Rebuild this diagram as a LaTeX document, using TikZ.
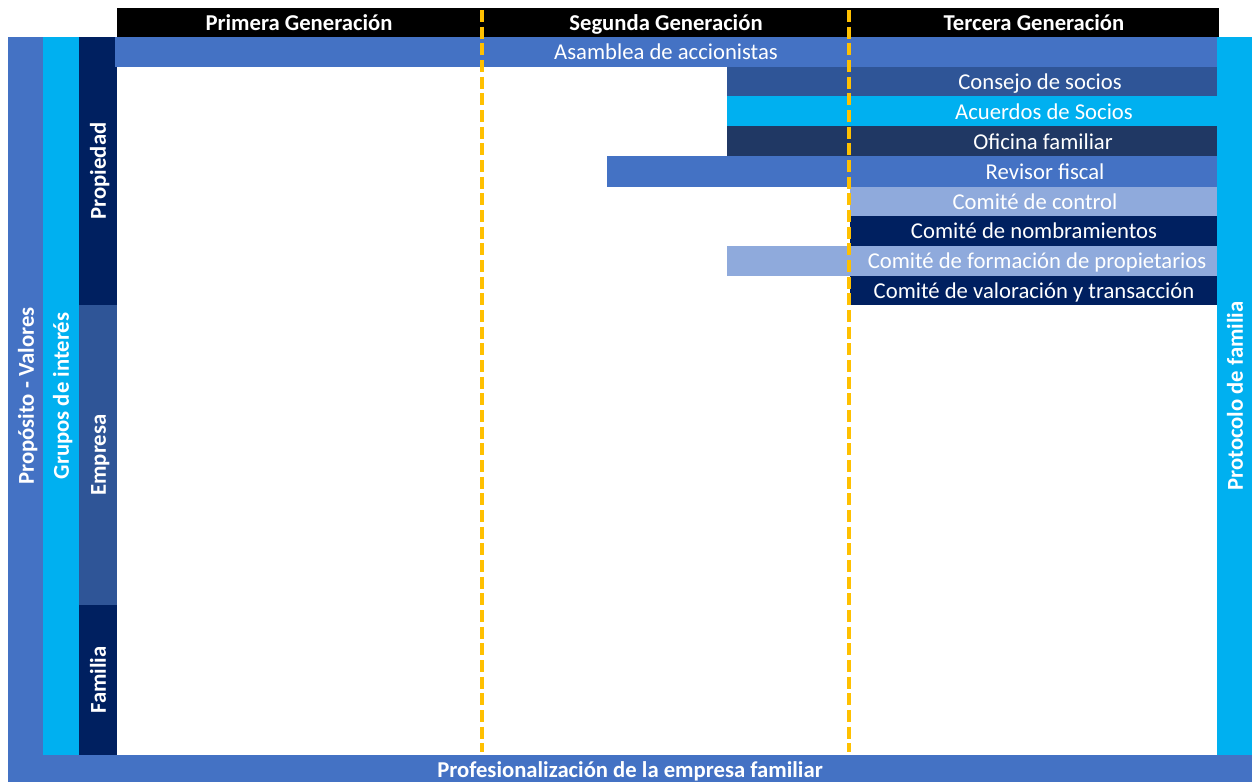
\documentclass[tikz,border=0pt]{standalone}
\usepackage{fontspec}
\setmainfont{Carlito}
\definecolor{cMid}{HTML}{4472C4}
\definecolor{cCyan}{HTML}{00B0F0}
\definecolor{cNavy}{HTML}{002060}
\definecolor{cSteel}{HTML}{2F5597}
\definecolor{cDark}{HTML}{203864}
\definecolor{cLight}{HTML}{8FAADC}
\definecolor{cGold}{HTML}{FFC000}
\tikzset{
  basetxt/.style={text=white, inner sep=0pt, anchor=center, text height=0.84em, text depth=0.1em},
  lbl/.style={basetxt, font=\fontsize{17}{19}\selectfont, yshift=-2.25pt},
  blbl/.style={basetxt, font=\fontsize{17}{19}\selectfont\bfseries, yshift=-2.25pt},
  vlbl/.style={basetxt, font=\fontsize{17}{19}\selectfont\bfseries, rotate=90},
  genline/.style={cGold, line width=2.5pt, dash pattern=on 9pt off 3.5pt},
}
\begin{document}
\begin{tikzpicture}[x=0.75pt, y=-0.75pt]
\useasboundingbox (0,0) rectangle (1252,782);
% header
\fill[black] (117,8) rectangle (1219,37);
\node[blbl] (g1) at (299,23) {Primera Generación};
\node[blbl] (g2) at (666,23) {Segunda Generación};
\node[blbl] (g3) at (1034,23) {Tercera Generación};
% frame bars
\fill[cMid] (8,37) rectangle (43,782);
\fill[cMid] (8,755) rectangle (1252,782);
\fill[cCyan] (43,37) rectangle (79,755);
\fill[cCyan] (1217,37) rectangle (1252,755);
\fill[cNavy] (79,37) rectangle (117,305);
\fill[cSteel] (79,305) rectangle (117,605);
\fill[cNavy] (79,605) rectangle (117,755);
\node[vlbl] (valores) at (29,396) {Propósito - Valores};
\node[vlbl] (grupos) at (64,396) {Grupos de interés};
\node[vlbl] (propiedad) at (101,171) {Propiedad};
\node[vlbl] (empresa) at (101,455) {Empresa};
\node[vlbl] (familia) at (101,680) {Familia};
\node[vlbl] (protocolo) at (1238,396) {Protocolo de familia};
\node[blbl] (prof) at (630,770) {Profesionalización de la empresa familiar};
% governance bars
\fill[cMid] (115,37) rectangle (1217,67);
\fill[cSteel] (727,67) rectangle (1217,96);
\fill[cCyan] (727,96) rectangle (1217,126);
\fill[cDark] (727,126) rectangle (1217,156);
\fill[cMid] (607,156) rectangle (1217,187);
\fill[cLight] (850,187) rectangle (1217,216);
\fill[cNavy] (850,216) rectangle (1217,246);
\fill[cLight] (727,246) rectangle (1217,276);
\fill[cNavy] (850,276) rectangle (1217,305);
\node[lbl] (asamblea) at (666,52) {Asamblea de accionistas};
\node[lbl] (consejo) at (1040,82) {Consejo de socios};
\node[lbl] (acuerdos) at (1044,112) {Acuerdos de Socios};
\node[lbl] (oficina) at (1043,142) {Oficina familiar};
\node[lbl] (revisor) at (1045,172) {Revisor fiscal};
\node[lbl] (control) at (1035,202) {Comité de control};
\node[lbl] (nombr) at (1034,231) {Comité de nombramientos};
\node[lbl] (formacion) at (1037,261) {Comité de formación de propietarios};
\node[lbl] (valoracion) at (1034,291) {Comité de valoración y transacción};
% generation dividers
\coordinate (d1t) at (482,10);
\coordinate (d1b) at (482,752);
\coordinate (d2t) at (849,10);
\coordinate (d2b) at (849,752);
\draw[genline] (d1t) -- (d1b);
\draw[genline] (d2t) -- (d2b);
\end{tikzpicture}
\end{document}
